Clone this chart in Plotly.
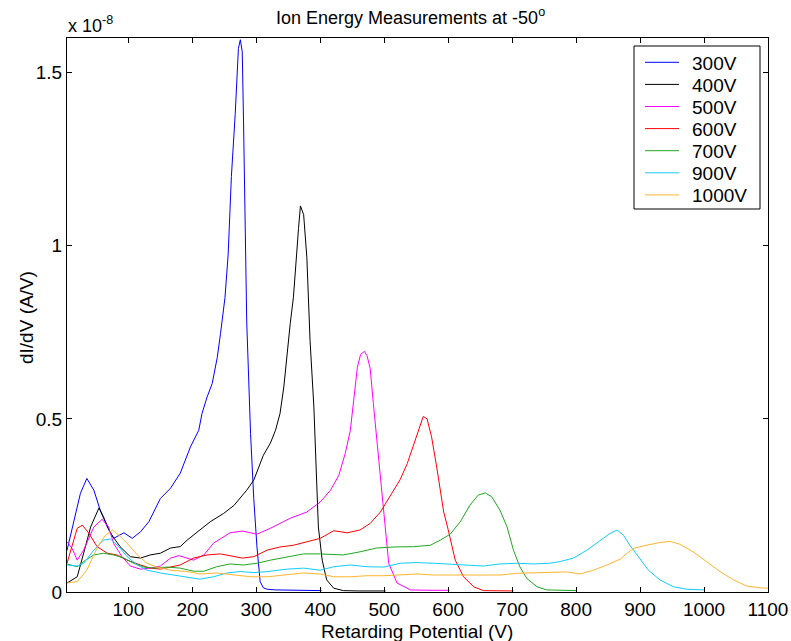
import plotly.graph_objects as go

# Retarding potential sweeps (V) and derivative dI/dV (in units of 1e-8 A/V)
volt_300 = [4, 10, 17, 25, 35, 46, 56, 67, 77, 93, 106, 119, 132, 150, 166, 181, 197, 210, 215, 223, 231,
            239, 244, 251, 256, 261, 267, 272, 275, 278, 280, 283, 285, 291, 296, 301, 306, 311, 317, 330,
            350, 370, 390, 402]
didv_300 = [0.12, 0.17, 0.22, 0.285, 0.328, 0.294, 0.236, 0.188, 0.155, 0.171, 0.155, 0.174, 0.203, 0.27,
            0.30, 0.343, 0.419, 0.467, 0.515, 0.563, 0.602, 0.678, 0.746, 0.85, 0.976, 1.2, 1.38, 1.57,
            1.595, 1.56, 1.36, 1.07, 0.78, 0.458, 0.27, 0.13, 0.03, 0.012, 0.008, 0.006, 0.005, 0.005,
            0.004, 0.004]

volt_400 = [4, 20, 30, 41, 54, 61, 72, 87, 103, 119, 134, 150, 166, 181, 192, 212, 228, 249, 265, 285,
            296, 311, 322, 330, 337, 343, 348, 353, 358, 362, 366, 369, 374, 379, 384, 390, 394, 397, 403,
            410, 421, 436, 460, 480, 502]
didv_400 = [0.026, 0.044, 0.112, 0.188, 0.243, 0.217, 0.17, 0.131, 0.102, 0.098, 0.107, 0.112, 0.127,
            0.131, 0.15, 0.179, 0.203, 0.227, 0.25, 0.294, 0.323, 0.395, 0.43, 0.467, 0.515, 0.592, 0.688,
            0.775, 0.851, 0.966, 1.05, 1.115, 1.09, 0.966, 0.726, 0.534, 0.314, 0.188, 0.092, 0.035, 0.011,
            0.004, 0.003, 0.003, 0.003]

volt_500 = [4, 12, 20, 30, 46, 59, 69, 77, 90, 103, 119, 134, 150, 166, 179, 189, 202, 218, 233, 259, 278,
            301, 322, 353, 379, 400, 416, 429, 439, 447, 451, 458, 463, 469, 473, 478, 483, 487, 491, 495,
            499, 507, 520, 541, 570, 602]
didv_500 = [0.145, 0.126, 0.092, 0.121, 0.188, 0.21, 0.188, 0.14, 0.102, 0.075, 0.066, 0.069, 0.075,
            0.098, 0.105, 0.099, 0.092, 0.107, 0.141, 0.171, 0.176, 0.167, 0.184, 0.213, 0.231, 0.26,
            0.294, 0.337, 0.4, 0.467, 0.534, 0.649, 0.686, 0.695, 0.683, 0.646, 0.544, 0.467, 0.371, 0.294,
            0.217, 0.083, 0.026, 0.006, 0.005, 0.005]

volt_600 = [4, 12, 20, 28, 38, 51, 67, 82, 98, 119, 134, 150, 166, 181, 202, 223, 244, 259, 278, 296, 317,
            337, 358, 379, 400, 421, 442, 462, 478, 494, 509, 525, 536, 546, 554, 561, 567, 574, 582, 588,
            593, 600, 611, 624, 640, 655, 680, 702]
didv_600 = [0.083, 0.131, 0.184, 0.193, 0.17, 0.131, 0.112, 0.107, 0.092, 0.078, 0.069, 0.066, 0.072,
            0.078, 0.098, 0.107, 0.11, 0.104, 0.098, 0.102, 0.121, 0.13, 0.135, 0.145, 0.155, 0.177, 0.171,
            0.179, 0.198, 0.231, 0.275, 0.325, 0.371, 0.424, 0.467, 0.507, 0.5, 0.448, 0.361, 0.285, 0.231,
            0.18, 0.092, 0.044, 0.015, 0.004, 0.003, 0.003]

volt_700 = [4, 20, 33, 46, 61, 77, 93, 108, 124, 140, 160, 181, 202, 218, 238, 259, 280, 301, 322, 348,
            374, 400, 436, 462, 488, 515, 546, 572, 588, 603, 619, 634, 647, 658, 668, 681, 692, 702, 712,
            723, 739, 754, 780, 801]
didv_700 = [0.081, 0.073, 0.092, 0.107, 0.112, 0.107, 0.098, 0.083, 0.072, 0.069, 0.072, 0.069, 0.06,
            0.06, 0.073, 0.081, 0.078, 0.083, 0.092, 0.102, 0.11, 0.11, 0.107, 0.116, 0.127, 0.13, 0.131,
            0.135, 0.15, 0.167, 0.203, 0.251, 0.28, 0.286, 0.275, 0.236, 0.188, 0.121, 0.073, 0.039, 0.015,
            0.006, 0.004, 0.004]

volt_900 = [4, 20, 30, 46, 61, 72, 85, 98, 114, 129, 150, 171, 192, 212, 233, 254, 275, 296, 317, 348,
            374, 400, 421, 447, 473, 499, 525, 551, 577, 603, 629, 655, 681, 707, 733, 759, 775, 796, 817,
            838, 853, 864, 874, 884, 897, 913, 931, 952, 973, 1001]
didv_900 = [0.078, 0.075, 0.083, 0.121, 0.15, 0.153, 0.131, 0.102, 0.078, 0.063, 0.055, 0.049, 0.044,
            0.037, 0.044, 0.055, 0.059, 0.056, 0.059, 0.066, 0.069, 0.063, 0.073, 0.078, 0.073, 0.072,
            0.083, 0.085, 0.083, 0.081, 0.078, 0.075, 0.081, 0.083, 0.081, 0.083, 0.088, 0.098, 0.121,
            0.15, 0.169, 0.179, 0.164, 0.135, 0.102, 0.063, 0.035, 0.015, 0.008, 0.006]

volt_1000 = [4, 20, 35, 51, 64, 75, 85, 98, 114, 129, 145, 166, 192, 212, 238, 265, 291, 317, 348, 374,
             400, 421, 447, 473, 499, 525, 551, 577, 603, 629, 655, 681, 707, 733, 759, 785, 806, 827, 848,
             869, 879, 890, 910, 931, 947, 962, 983, 1004, 1025, 1046, 1067, 1088, 1100]
didv_1000 = [0.026, 0.03, 0.063, 0.127, 0.164, 0.179, 0.164, 0.141, 0.107, 0.083, 0.072, 0.063, 0.059,
             0.052, 0.055, 0.049, 0.044, 0.044, 0.049, 0.055, 0.052, 0.044, 0.044, 0.047, 0.047, 0.049,
             0.052, 0.049, 0.049, 0.049, 0.049, 0.049, 0.054, 0.056, 0.056, 0.058, 0.052, 0.063, 0.078,
             0.095, 0.111, 0.126, 0.135, 0.143, 0.146, 0.138, 0.116, 0.087, 0.059, 0.035, 0.017, 0.012,
             0.011]

series_names = ["300V", "400V", "500V", "600V", "700V", "900V", "1000V"]
series_colors = ["#0000ff", "#000000", "#ff00ff", "#ff0000", "#1fa81f", "#11ccff", "#ffb52e"]
series_x = [volt_300, volt_400, volt_500, volt_600, volt_700, volt_900, volt_1000]
series_y = [didv_300, didv_400, didv_500, didv_600, didv_700, didv_900, didv_1000]

x_ticks = [100, 200, 300, 400, 500, 600, 700, 800, 900, 1000, 1100]
y_ticks = [0, 0.5, 1, 1.5]

FONT = "Liberation Sans, Arial, Helvetica, sans-serif"
W, H = 791, 641
ML, MR, MT, MB = 67, 23, 38, 49
PW, PH = W - ML - MR, H - MT - MB


def px(x):
    """Horizontal pixel -> paper fraction."""
    return (x - ML) / PW


def py(y):
    """Vertical pixel (from top) -> paper fraction."""
    return (H - MB - y) / PH


fig = go.Figure()
for name, color, xs, ys in zip(series_names, series_colors, series_x, series_y):
    fig.add_trace(go.Scatter(x=xs, y=ys, mode="lines", name=name,
                             line=dict(color=color, width=1), showlegend=False))

axis_style = dict(showline=True, linecolor="black", linewidth=1, mirror="ticks",
                  ticks="inside", ticklen=5, tickcolor="black", showgrid=False,
                  zeroline=False, automargin=False,
                  tickfont=dict(family=FONT, size=19, color="black"))

fig.update_layout(
    width=W, height=H,
    margin=dict(l=ML, r=MR, t=MT, b=MB, autoexpand=False),
    paper_bgcolor="white", plot_bgcolor="white",
    font=dict(family=FONT, color="black"),
    xaxis=dict(range=[4, 1100], tickvals=x_ticks, ticktext=[str(v) for v in x_ticks], **axis_style),
    yaxis=dict(range=[0, 1.6], tickvals=y_ticks, ticktext=["0", "0.5", "1", "1.5"], **axis_style),
    showlegend=False,
)

# Title, axis labels and exponent marker
fig.add_annotation(text="Ion Energy Measurements at -50<sup>o</sup>", xref="paper", yref="paper",
                   x=px(410), y=py(17), xanchor="center", yanchor="middle", showarrow=False,
                   font=dict(family=FONT, size=18, color="black"))
fig.add_annotation(text="Retarding Potential (V)", xref="paper", yref="paper",
                   x=px(417), y=py(631), xanchor="center", yanchor="middle", showarrow=False,
                   font=dict(family=FONT, size=19, color="black"))
fig.add_annotation(text="dI/dV (A/V)", xref="paper", yref="paper", textangle=-90,
                   x=px(26), y=py(318), xanchor="center", yanchor="middle", showarrow=False,
                   font=dict(family=FONT, size=19, color="black"))
fig.add_annotation(text="x 10<sup>-8</sup>", xref="paper", yref="paper", x=px(66), y=py(24),
                   xanchor="left", yanchor="middle", showarrow=False,
                   font=dict(family=FONT, size=18, color="black"))

# Legend box with line samples
LEG_X0, LEG_X1, LEG_Y0, LEG_Y1 = 634, 760, 46, 209
ROW0, ROW_STEP = 62.3, 22.1
fig.add_shape(type="rect", xref="paper", yref="paper",
              x0=px(LEG_X0), x1=px(LEG_X1), y0=py(LEG_Y1), y1=py(LEG_Y0),
              line=dict(color="black", width=1), fillcolor="white", layer="above")
for i, (name, color) in enumerate(zip(series_names, series_colors)):
    row_y = ROW0 + i * ROW_STEP
    fig.add_shape(type="line", xref="paper", yref="paper",
                  x0=px(645), x1=px(679), y0=py(row_y), y1=py(row_y),
                  line=dict(color=color, width=1), layer="above")
    fig.add_annotation(text=name, xref="paper", yref="paper", x=px(690), y=py(row_y + 1),
                       xanchor="left", yanchor="middle", showarrow=False,
                       font=dict(family=FONT, size=19, color="black"))

fig.write_html("out.html")
